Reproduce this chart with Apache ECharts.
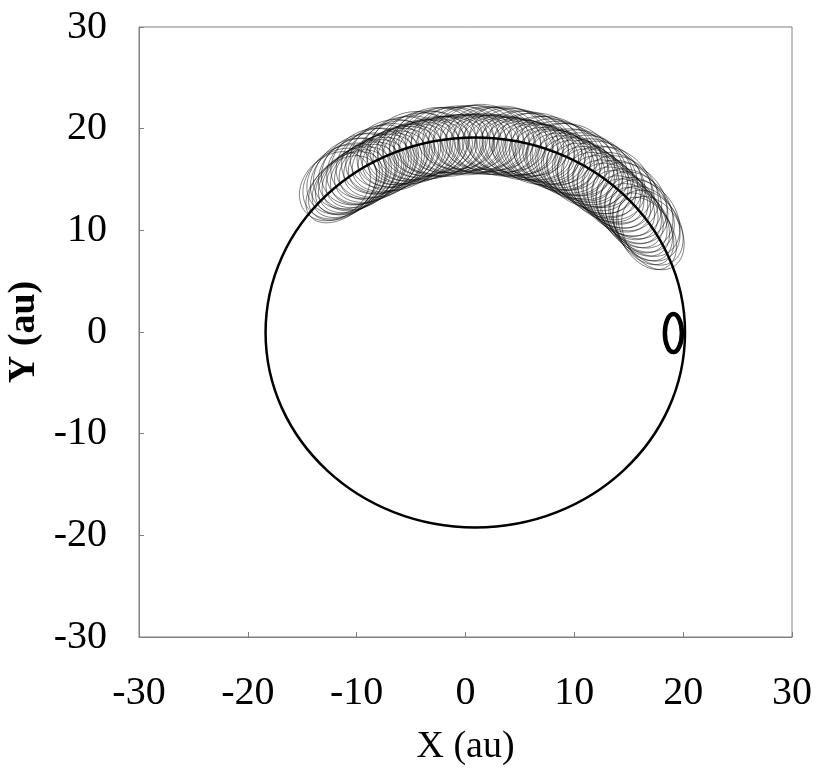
<!DOCTYPE html>
<html>
<head>
<meta charset="utf-8">
<script src="https://cdn.jsdelivr.net/npm/echarts@6/dist/echarts.min.js"></script>
<style>
  html, body { margin: 0; padding: 0; background: #fff; }
  #chart { width: 830px; height: 781px; }
</style>
</head>
<body>
<div id="chart"></div>
<script>
// axis range
const axisMin = -30;
const axisMax = 30;
const axisStep = 10;

// big orbit (centre x, y and semi-axes in au)
const orbitCenter = [0.9, -0.05];
const orbitRadius = [19.27, 19.17];

// small thick loop near (19, 0)
const planetCenter = [19.1, -0.1];
const planetRadius = [0.78, 1.87];

// loops of the band, outer pass: centre, semi-axis along the band, semi-axis across, tilt (deg)
const loopX = [-12.0, -11.56, -11.24, -10.8, -10.5, -10.0, -9.7, -9.2, -8.8, -8.3,
  -7.86, -7.37, -6.94, -6.4, -5.94, -5.38, -4.97, -4.37, -3.88, -3.34,
  -2.83, -2.27, -1.76, -1.19, -0.67, -0.13, 0.44, 0.97, 1.5, 2.06,
  2.6, 3.12, 3.7, 4.2, 4.74, 5.27, 5.83, 6.3, 6.86, 7.34,
  7.95, 8.35, 8.9, 9.36, 9.9, 10.3, 10.83, 11.22, 11.8, 12.13,
  12.63, 12.98, 13.53, 13.8, 14.27, 14.58, 15.11, 15.3, 15.74, 15.99,
  16.49, 16.63, 17.0, 17.22];
const loopY = [14.34, 14.6, 15.0, 15.09, 15.58, 15.56, 16.0, 16.1, 16.57, 16.6,
  16.97, 17.1, 17.53, 17.54, 17.83, 17.93, 18.28, 18.26, 18.49, 18.52,
  18.84, 18.73, 18.91, 18.89, 19.14, 18.97, 19.09, 19.0, 19.19, 18.96,
  19.02, 18.87, 18.99, 18.71, 18.72, 18.49, 18.55, 18.22, 18.14, 17.88,
  17.86, 17.48, 17.34, 17.02, 16.95, 16.5, 16.31, 15.96, 15.8, 15.33,
  15.07, 14.67, 14.46, 13.95, 13.64, 13.17, 12.92, 12.39, 12.01, 11.53,
  11.21, 10.66, 10.26, 9.73];
const loopA = [3.7, 3.8, 3.7, 3.8, 3.8, 3.8, 3.8, 3.8, 3.8, 3.8,
  3.7, 3.8, 3.8, 3.7, 3.8, 3.8, 3.9, 3.8, 3.8, 3.7,
  3.8, 3.9, 3.8, 3.8, 3.7, 3.8, 3.8, 3.9, 3.8, 3.8,
  3.7, 3.8, 3.8, 3.9, 3.8, 3.8, 3.7, 3.8, 3.9, 3.8,
  3.8, 3.9, 3.8, 3.9, 4.0, 3.9, 3.9, 4.0, 3.9, 4.0,
  4.0, 3.9, 4.0, 4.0, 3.9, 4.0, 4.0, 3.9, 4.0, 3.9,
  4.0, 3.9, 3.9, 3.8];
const loopB = [2.9, 3.0, 3.0, 3.1, 3.1, 3.2, 3.2, 3.2, 3.2, 3.2,
  3.2, 3.2, 3.2, 3.1, 3.2, 3.2, 3.3, 3.2, 3.2, 3.1,
  3.2, 3.3, 3.2, 3.2, 3.1, 3.2, 3.2, 3.3, 3.2, 3.2,
  3.1, 3.2, 3.2, 3.3, 3.2, 3.2, 3.1, 3.2, 3.3, 3.2,
  3.2, 3.3, 3.2, 3.3, 3.3, 3.2, 3.3, 3.3, 3.2, 3.3,
  3.3, 3.2, 3.3, 3.2, 3.2, 3.1, 3.1, 3.0, 3.0, 2.9,
  2.9, 2.8, 2.7, 2.6];
const loopTilt = [42, 40.5, 39, 37.8, 36.2, 35, 33.5, 32.1, 30.4, 29,
  27.3, 25.8, 24.1, 22.6, 21, 19.3, 17.8, 16.1, 14.5, 12.9,
  11.2, 9.6, 8, 6.3, 4.7, 3.1, 1.4, -0.2, -1.8, -3.5,
  -5.1, -6.7, -8.4, -10, -11.6, -13.3, -14.9, -16.5, -18.2, -19.8,
  -21.5, -23.1, -24.8, -26.4, -28, -29.7, -31.3, -32.9, -34.6, -36.2,
  -37.9, -39.5, -41.1, -42.8, -44.4, -46.1, -47.7, -49.3, -51, -52.6,
  -54.3, -55.9, -57.5, -59.2];

// loops of the band, inner (return) pass
const loop2X = [-11.40, -11.03, -10.66, -10.30, -9.92, -9.53, -9.14, -8.70, -8.27, -7.81,
  -7.36, -6.91, -6.44, -5.96, -5.46, -4.99, -4.50, -3.97, -3.48, -2.97,
  -2.45, -1.93, -1.40, -0.88, -0.36, 0.18, 0.71, 1.23, 1.75, 2.29,
  2.80, 3.33, 3.86, 4.36, 4.88, 5.41, 5.91, 6.41, 6.91, 7.44,
  7.93, 8.39, 8.88, 9.37, 9.82, 10.28, 10.72, 11.19, 11.63, 12.04,
  12.45, 12.88, 13.28, 13.64, 14.02, 14.43, 14.78, 15.08, 15.42, 15.78,
  16.09, 16.34, 16.62];
const loop2Y = [14.04, 14.36, 14.59, 14.87, 15.10, 15.31, 15.57, 15.84, 16.09, 16.28,
  16.52, 16.80, 17.01, 17.15, 17.34, 17.56, 17.72, 17.82, 17.95, 18.12,
  18.22, 18.26, 18.33, 18.44, 18.48, 18.46, 18.47, 18.52, 18.50, 18.42,
  18.38, 18.36, 18.28, 18.15, 18.05, 17.96, 17.83, 17.63, 17.47, 17.33,
  17.14, 16.89, 16.66, 16.48, 16.22, 15.91, 15.65, 15.40, 15.10, 14.74,
  14.42, 14.13, 13.78, 13.38, 13.00, 12.65, 12.28, 11.83, 11.42, 11.03,
  10.61, 10.15, 9.70];
const loop2A = [3.9, 4.0, 4.0, 4.0, 4.1, 4.1, 4.1, 4.1, 4.1, 4.1,
  4.1, 4.1, 4.2, 4.1, 4.2, 4.2, 4.1, 4.2, 4.2, 4.1,
  4.2, 4.2, 4.1, 4.2, 4.2, 4.1, 4.2, 4.2, 4.1, 4.2,
  4.2, 4.1, 4.2, 4.2, 4.1, 4.2, 4.2, 4.1, 4.2, 4.2,
  4.1, 4.2, 4.2, 4.1, 4.2, 4.2, 4.1, 4.2, 4.1, 4.1,
  4.2, 4.1, 4.1, 4.0, 4.1, 4.0, 4.0, 3.9, 4.0, 3.9,
  3.9, 3.8, 3.8];
const loop2B = [2.5, 2.6, 2.6, 2.7, 2.7, 2.8, 2.8, 2.8, 2.9, 2.9,
  2.9, 2.9, 2.9, 3.0, 2.9, 2.9, 3.0, 2.9, 2.9, 3.0,
  2.9, 2.9, 3.0, 2.9, 2.9, 3.0, 2.9, 2.9, 3.0, 2.9,
  2.9, 3.0, 2.9, 2.9, 3.0, 2.9, 2.9, 3.0, 2.9, 2.9,
  3.0, 2.9, 2.9, 3.0, 2.9, 2.9, 3.0, 2.9, 2.9, 2.9,
  2.9, 2.8, 2.8, 2.8, 2.7, 2.7, 2.7, 2.6, 2.6, 2.5,
  2.5, 2.4, 2.4];
const loop2Tilt = [41.2, 39.8, 38.4, 37, 35.6, 34.2, 32.8, 31.2, 29.7, 28.1,
  26.5, 24.9, 23.3, 21.8, 20.1, 18.5, 16.9, 15.3, 13.7, 12.0,
  10.4, 8.8, 7.1, 5.5, 3.9, 2.2, 0.6, -1.0, -2.6, -4.3,
  -5.9, -7.5, -9.2, -10.8, -12.4, -14.1, -15.7, -17.3, -19.0, -20.6,
  -22.3, -23.9, -25.6, -27.2, -28.8, -30.5, -32.1, -33.7, -35.4, -37.0,
  -38.7, -40.3, -41.9, -43.6, -45.2, -46.9, -48.5, -50.1, -51.8, -53.4,
  -55.1, -56.7, -58.3];

const FONT = 'Liberation Serif';
const GREY = '#808080';

const chart = echarts.init(document.getElementById('chart'));

// draws one ellipse per data row [cx, cy, a, b, tilt]
function ellipseRenderer(lineWidth, color) {
  return function (params, api) {
    const c = api.coord([api.value(0), api.value(1)]);
    const unit = api.size([1, 1]);
    const phi = api.value(4) * Math.PI / 180;
    const rx = api.value(2) * Math.hypot(unit[0] * Math.cos(phi), unit[1] * Math.sin(phi));
    const ry = api.value(3) * Math.hypot(unit[0] * Math.sin(phi), unit[1] * Math.cos(phi));
    return {
      type: 'ellipse',
      x: c[0],
      y: c[1],
      rotation: phi,
      shape: { cx: 0, cy: 0, rx: rx, ry: ry },
      style: { fill: 'none', stroke: color, lineWidth: lineWidth }
    };
  };
}

const loopData = loopX.map((x, i) => [x, loopY[i], loopA[i], loopB[i], loopTilt[i]]);
const loop2Data = loop2X.map((x, i) => [x, loop2Y[i], loop2A[i], loop2B[i], loop2Tilt[i]]);

const axisCommon = {
  type: 'value',
  min: axisMin,
  max: axisMax,
  interval: axisStep,
  splitLine: { show: false },
  axisLine: { show: true, onZero: false, lineStyle: { color: GREY, width: 1 } },
  axisTick: { show: true, inside: true, length: 5, lineStyle: { color: GREY } },
  axisLabel: { fontFamily: FONT, fontSize: 40, color: '#000' },
  nameLocation: 'middle'
};

const option = {
  animation: false,
  backgroundColor: '#fff',
  grid: {
    left: 139, right: 38, top: 27, bottom: 144,
    show: true, borderColor: GREY, borderWidth: 1,
    containLabel: false,
    outerBoundsMode: 'none'
  },
  xAxis: Object.assign({}, axisCommon, {
    name: 'X (au)',
    nameGap: 91,
    nameTextStyle: { fontFamily: FONT, fontSize: 38, color: '#000' },
    axisLabel: Object.assign({}, axisCommon.axisLabel, { margin: 36 })
  }),
  yAxis: Object.assign({}, axisCommon, {
    name: 'Y (au)',
    nameGap: 96,
    nameTextStyle: { fontFamily: FONT, fontSize: 38, fontWeight: 'bold', color: '#000' },
    axisLabel: Object.assign({}, axisCommon.axisLabel, { margin: 32 })
  }),
  series: [
    {
      type: 'custom',
      name: 'loops',
      silent: true,
      z: 2,
      encode: { x: 0, y: 1 },
      renderItem: ellipseRenderer(0.5, 'rgba(0,0,0,0.9)'),
      data: loopData
    },
    {
      type: 'custom',
      name: 'loops return',
      silent: true,
      z: 2,
      encode: { x: 0, y: 1 },
      renderItem: ellipseRenderer(0.5, 'rgba(0,0,0,0.9)'),
      data: loop2Data
    },
    {
      type: 'custom',
      name: 'orbit',
      silent: true,
      z: 3,
      encode: { x: 0, y: 1 },
      renderItem: ellipseRenderer(2.5, '#000'),
      data: [[orbitCenter[0], orbitCenter[1], orbitRadius[0], orbitRadius[1], 0]]
    },
    {
      type: 'custom',
      name: 'planet',
      silent: true,
      z: 4,
      encode: { x: 0, y: 1 },
      renderItem: ellipseRenderer(4.5, '#000'),
      data: [[planetCenter[0], planetCenter[1], planetRadius[0], planetRadius[1], 0]]
    }
  ]
};

chart.setOption(option);
</script>
</body>
</html>
